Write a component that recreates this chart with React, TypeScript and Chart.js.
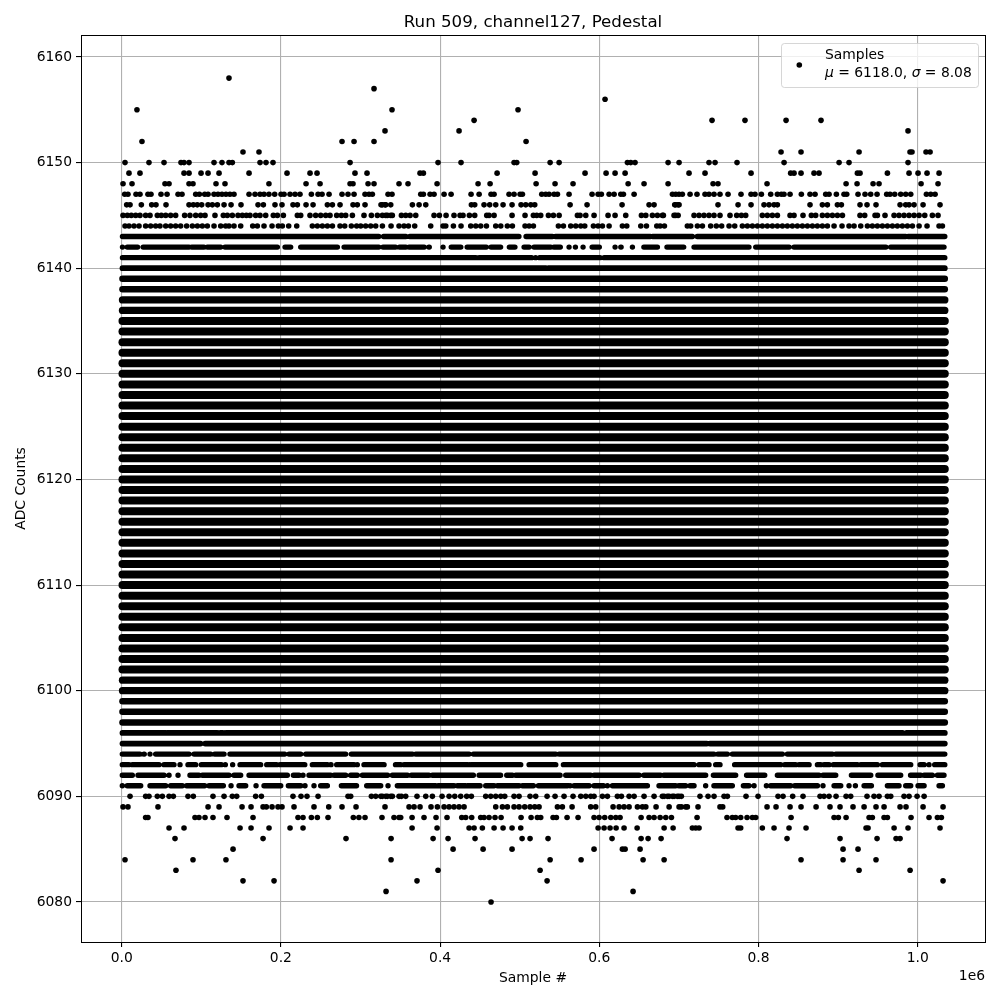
import React, { useEffect, useRef } from "react";
import { Chart, registerables } from "chart.js";

Chart.register(...registerables);

// All sample positions are written in thousands of samples.
const SAMPLE_UNIT = 1000;

const CHART_TITLE = "Run 509, channel127, Pedestal";
const X_LABEL = "Sample #";
const Y_LABEL = "ADC Counts";
const X_TICKS = [0, 200000, 400000, 600000, 800000, 1000000];
const Y_TICKS = [6080, 6090, 6100, 6110, 6120, 6130, 6140, 6150, 6160];

// Isolated samples, one list per ADC value.
const row6158 = [134.8];
const row6157 = [317];
const row6156 = [607.2];
const row6155 = [19.2, 339.6, 497.9];
const row6154 = [442.7, 741.6, 783, 834.6, 878.5];
const row6153 = [330.8, 423.8, 987.8];
const row6152 = [25.5, 276.8, 291.9, 317, 508];
const row6151 = [152.4, 172.5, 828.3, 853.4, 926.3, 990.3, 992.8, 1010.4, 1015.5];
const row6150 = [4.2, 34.3, 53.2, 74.5, 78.3, 84.6, 116, 126, 134.8, 139, 173.8, 181.3, 190.1, 286.9, 397.4, 426.3, 492.9, 496.3, 538.2, 549.5, 635.3, 639.5, 644.9, 686.4, 700.2, 737.8, 745.4, 773, 832.1, 901.2, 913.7, 987.8];
const row6149 = [9.2, 23, 78.3, 84.6, 99.7, 108.5, 122.3, 160, 207.7, 236.6, 245.4, 293.1, 308.2, 374.8, 379, 471.6, 519.3, 582.1, 608.5, 619.8, 632.4, 712.7, 732.8, 790.6, 840.4, 844.6, 853.4, 869.7, 876, 924.2, 927.5, 961.9, 989.1, 1000.4, 1011.7, 1026.8];
const row6148 = [1.7, 13, 54.4, 59.5, 84.6, 89.6, 118.5, 129.8, 185, 231.6, 249.2, 286.9, 290.6, 309.5, 317, 348.4, 359.7, 396.2, 447.7, 462.8, 520.6, 544.4, 567, 636.2, 656.2, 686.4, 742.9, 749.1, 810.7, 910, 923.8, 943.9, 951.4, 1004.2, 1025.5];
const row6147 = [3.8, 7.9, 18, 23, 33, 36.8, 49.4, 57, 70.8, 75.8, 93, 97.6, 104.3, 108.5, 116, 121, 126, 131, 136, 141.1, 160, 167.5, 173.8, 178.8, 185, 192.2, 200.2, 204, 211.5, 217.8, 224, 238.3, 246.7, 251.7, 260.5, 276.8, 284.3, 291.9, 305.7, 310.7, 314.9, 334.6, 339.6, 375.7, 379, 387.4, 392.4, 405, 413.8, 438.9, 449, 464, 467.8, 486.6, 492.9, 500.5, 503.4, 527.7, 532.7, 536.9, 543.2, 547.4, 562, 590.9, 598.5, 602.6, 612.3, 618.6, 627, 630.3, 643.7, 691.9, 696, 700.1, 704.3, 714, 722.7, 732.8, 737.8, 744.1, 751.6, 761.7, 778, 790.6, 795.6, 803.6, 815.3, 823.7, 828.7, 832, 839.6, 853.8, 864.7, 871, 884.4, 888.6, 897.8, 907.4, 910.8, 925, 933.8, 940.9, 948.9, 961, 965.2, 971.1, 978.6, 984.9, 991.2, 1010.9, 1016.3, 1021.8];
const row6146 = [6.3, 10.5, 24.7, 37.7, 43.1, 55.7, 84.6, 90, 95, 100.5, 108.5, 113.9, 120.2, 128.6, 137.4, 149.9, 171.3, 178, 192.6, 201.4, 215.2, 220.7, 231.6, 240.4, 258.4, 264.7, 274.3, 290.6, 296, 305.7, 325.8, 330.8, 338, 327.5, 331.7, 365.2, 373.6, 382, 439.3, 443.5, 455.2, 462.3, 469.9, 479.1, 490.4, 501.7, 507.6, 513.9, 518.9, 563.3, 584.6, 628.6, 662.5, 668.8, 696, 700.2, 694.7, 698.9, 749.1, 774.3, 790.6, 806.9, 813.2, 819.5, 823.7, 864.7, 880.2, 886.5, 899.1, 904.1, 927.5, 936.3, 947.6, 977.8, 984.9, 989.1, 995.4, 1006.7, 1028];
const row6145 = [1.7, 7.1, 12.1, 17.6, 23, 30.1, 35.6, 44.8, 49.8, 55.3, 61.5, 67.8, 79.1, 85.8, 93, 99.2, 104.7, 117.2, 127.7, 132.7, 139, 146.1, 151.6, 156.6, 161.2, 168.3, 173.8, 180.9, 190.5, 195.6, 203.1, 220.7, 224.9, 236.6, 243.7, 250, 256.3, 261.7, 270.1, 276, 281.4, 289.8, 304.4, 313.7, 321.2, 331.7, 338, 327.5, 333.8, 340, 351.4, 356.8, 362.3, 369.4, 392.4, 399.1, 407.5, 417.5, 425.1, 428.8, 436.8, 443.5, 458.6, 461.5, 467.8, 490.4, 506.7, 517.2, 521.4, 526.4, 536.1, 542.3, 549.5, 572.5, 575.8, 583, 593.4, 611, 619.8, 633.2, 652.9, 658.4, 666.7, 673, 679.3, 696, 699, 680.5, 693.9, 719, 725.3, 731.5, 737.8, 744.1, 751.6, 764.2, 772.6, 778.5, 783.9, 804.8, 811.1, 817.4, 823.7, 839.6, 844.6, 855.9, 866.4, 871.8, 880.2, 886.5, 892.8, 899.1, 905.4, 927.5, 933.4, 946.4, 949.3, 958.9, 970.3, 976.5, 982.8, 989.1, 995.4, 1001.7, 1008.8, 1018.4, 1025.5];
const row6144 = [4.2, 9.2, 15.5, 21.8, 30.1, 36.4, 42.7, 48.1, 55.3, 61.5, 67.8, 74.1, 81.6, 88.8, 95.1, 101.3, 107.6, 116, 124.4, 130.6, 134.8, 141.1, 149.5, 164.6, 170.4, 178.8, 188.9, 196.8, 201.8, 209.8, 219.9, 239.5, 245.8, 252.1, 258.4, 264.7, 274.3, 280.2, 288.5, 295.2, 300.3, 306.5, 312.8, 319.1, 327.5, 338.4, 348.4, 354.7, 360.2, 368.1, 388.2, 403.7, 407.1, 416.7, 426.3, 438.5, 444.8, 451, 458.2, 469.9, 476.2, 484.5, 490.8, 506.7, 511.8, 517.2, 548.6, 554.9, 564.1, 570.4, 576.7, 581.7, 592.6, 598.5, 603.9, 612.3, 629, 634.5, 652.1, 659.2, 672.2, 676.4, 681.8, 710.6, 714.8, 723.2, 729.5, 739.9, 747, 753.7, 763, 770.1, 779.7, 786, 792.3, 798.6, 804.8, 811.1, 817.4, 823.7, 830, 836.2, 842.5, 848.8, 855.1, 861.4, 867.7, 873.9, 880.2, 886.5, 894.9, 904.9, 913.7, 920, 928.4, 936.8, 943, 949.3, 955.6, 961.9, 968.2, 974.4, 980.7, 987, 993.3, 1001.7, 1011.7, 1026.8, 1031];
const row6090 = [10.5, 30.1, 34.3, 44.8, 51.1, 59.5, 64.9, 83.3, 90, 114.7, 128.6, 139, 144.5, 168.3, 175.5, 215.2, 225.3, 232.8, 246.7, 284.3, 287.7, 313.7, 319.1, 325.4, 331.7, 338, 348.4, 327.5, 333.8, 340.1, 351.4, 356.8, 371, 382, 390.3, 402.5, 411.3, 418.4, 425.9, 433.4, 439.3, 457.3, 463.6, 469.9, 476.2, 481.2, 492.9, 499.2, 513, 520.1, 534.4, 544.4, 555.7, 567, 576.7, 583, 589.2, 593.4, 603.9, 610.2, 622.7, 627.8, 637.4, 643.7, 656.2, 668.8, 681.4, 687.7, 693.9, 700.2, 679.2, 685.5, 691.8, 698, 703.1, 726.5, 736.6, 744.1, 756.7, 760.9, 784.3, 799.4, 824.5, 830.8, 842.9, 855.9, 877.3, 882.3, 888.6, 897.4, 910, 915.8, 936.3, 945.1, 951.4, 961.9, 966.1, 982.8, 989.1, 999.2, 1008];
const row6089 = [1.7, 7.9, 45.6, 108.5, 122.3, 151.2, 162.5, 177.6, 181.7, 188.9, 196.4, 201.4, 216.5, 241.6, 260.1, 276.8, 294.4, 330.8, 361, 367.3, 374.8, 388.6, 396.6, 405, 411.3, 417.5, 423.8, 430.1, 469.9, 478.3, 484.5, 492.9, 499.2, 506.3, 513, 518.9, 524.3, 547.4, 553.6, 565.8, 589.2, 595.5, 617.3, 624.9, 631.1, 637.4, 647.9, 654.2, 658.4, 671.3, 687.7, 700.2, 703.1, 708.5, 710.6, 724, 751.6, 755, 810.7, 822, 839.6, 853.4, 872.3, 889.8, 902.4, 918.7, 932.6, 947.6, 957.7, 977.8, 985.3, 1006.7, 1031.8];
const row6088 = [30.1, 33, 92.1, 97.1, 104.7, 114.7, 132.3, 165, 221.5, 227.8, 238.3, 245.8, 259.2, 291, 298, 305.7, 327, 342.1, 348.4, 350.5, 364.8, 379.8, 394.9, 408.7, 427.2, 432.2, 439.7, 451, 455.2, 461.5, 469, 476.6, 501.7, 514.3, 522.2, 526.4, 541.9, 546.1, 559.5, 573.3, 593.4, 599.7, 606.8, 614.4, 620.7, 626.1, 652.5, 662.5, 668.8, 676.4, 683.5, 690.6, 722.8, 760.4, 767.1, 771.3, 777.6, 785.6, 792.3, 796.5, 840.9, 894.9, 900.3, 910, 938.9, 943, 957.7, 961.9, 991.6, 1014.2, 1024.7, 1029.7];
const row6087 = [59.5, 78.3, 148.7, 162.5, 185.1, 211.5, 227.8, 364.8, 396.2, 436.4, 442.7, 453.1, 467.8, 479.1, 490.4, 501.3, 598.5, 606, 613.5, 621.1, 631.1, 647.5, 681.4, 692.7, 716.9, 721.1, 725.3, 774.3, 777.6, 804.8, 819.5, 838.3, 859.7, 935.1, 937.6, 970.3, 987.8, 1028];
const row6086 = [67, 177.6, 281.8, 338.4, 391.2, 410, 443.9, 503, 513, 535.6, 616, 652.5, 661.3, 677.6, 835.8, 902.4, 948.9, 972.8, 977.8];
const row6085 = [139.9, 416.3, 454, 490.4, 593.4, 629, 632.4, 651.2, 906.2, 925];
const row6084 = [4.2, 89.6, 131, 338.4, 538.2, 577.1, 655, 681.4, 853.4, 906.2, 947.6];
const row6083 = [68.2, 397.4, 525.6, 926.3, 990.4];
const row6082 = [152.4, 191.4, 371, 534.4, 1031.8];
const row6081 = [332.1, 642.4];
const row6080 = [464];

const sparseRows: [number, number[]][] = [
  [6158, row6158], [6157, row6157], [6156, row6156], [6155, row6155], [6154, row6154], [6153, row6153],
  [6152, row6152], [6151, row6151], [6150, row6150], [6149, row6149], [6148, row6148], [6147, row6147],
  [6146, row6146], [6145, row6145], [6144, row6144], [6090, row6090], [6089, row6089], [6088, row6088],
  [6087, row6087], [6086, row6086], [6085, row6085], [6084, row6084], [6083, row6083], [6082, row6082],
  [6081, row6081], [6080, row6080],
];

// Rows so dense the samples merge: unbroken stretches [first, last].
const runs6143 = [[1, 323], [329, 357], [362, 499], [508, 541], [545, 664], [667, 717], [723, 985], [988, 1034]];
const runs6142 = [[1, 1.4], [7, 20], [27, 84.6], [88, 103.4], [107.6, 124.4], [129.8, 195.6], [205.2, 212.3], [224.9, 271], [279.4, 323], [328.3, 344], [349, 357], [361, 380], [386, 386.4], [403.7, 404.1], [414, 426], [434, 458], [464, 476], [487, 494], [505.5, 511.8], [518, 539], [543, 551], [562, 562.4], [570, 570.4], [579.6, 580], [591, 600], [619.8, 620.2], [627, 627.4], [641.6, 642], [656, 673], [685, 706], [719, 788], [796.5, 838.4], [844.6, 960], [966, 1033]];
const runs6141 = [[1, 445], [449, 515], [520, 520.4], [525, 601], [606, 840], [843, 1034]];
const runs6140 = [[1, 533], [536, 1034]];
const runs6096 = [[1, 55], [57, 120], [124, 127], [131, 170], [171, 981], [986, 1034]];
const runs6095 = [[1, 99], [105, 735], [739, 1034]];
const runs6094 = [[0.8, 23], [28, 28.4], [35.6, 36], [42.7, 84.6], [90.9, 111.8], [116.8, 128.6], [136, 204.8], [210.2, 224.9], [231.2, 281.4], [288.5, 365.2], [369.4, 436.4], [441.8, 545.3], [549.5, 744], [749, 760.9], [767.1, 830], [836.2, 892.8], [897, 1034]];
const runs6093 = [[0.8, 9.2], [13.4, 46.9], [53.2, 65.7], [73.3, 73.7], [83.3, 93], [100.1, 125.2], [130.2, 130.6], [139.4, 139.8], [148.7, 174.6], [182.2, 194.7], [198.9, 230], [239.5, 258.4], [262.6, 263], [270.1, 291.9], [296, 296.4], [304.4, 329.6], [344, 350.5], [354.7, 435], [438.5, 501.3], [511.8, 545.3], [554.9, 719], [725.3, 737.8], [746.2, 751.6], [770, 827.9], [833, 846.7], [850.9, 863.5], [874, 878.2], [882.3, 888.6], [894, 924.2], [928.4, 949.3], [955.6, 991.2], [1003, 1008], [1014.2, 1014.6], [1021.3, 1034]];
const runs6092 = [[0.8, 13.4], [20.5, 53.2], [59.5, 59.9], [70.8, 71.2], [85.8, 97.1], [101.3, 134.8], [141.1, 149.5], [160, 208.1], [215.7, 222.8], [227.8, 228.2], [235.3, 262.6], [266.8, 281.4], [287.7, 296], [302.4, 334], [340, 359], [364, 386], [390.3, 441.8], [449, 476], [483.7, 490.8], [495, 550.7], [557.8, 589.2], [593.4, 650], [656, 677], [681, 733.6], [743.3, 771.3], [785, 807.8], [823.7, 876], [881, 897], [916.7, 941], [950, 978.6], [991, 1003.8], [1008, 1018.4], [1024.7, 1033]];
const runs6091 = [[0.8, 1.2], [7, 23.9], [35.6, 55.3], [61.5, 76.2], [81.6, 104.3], [109.7, 127.7], [137.4, 137.8], [147.4, 155.8], [168.8, 169.2], [178.8, 199.8], [209.4, 225], [230.3, 230.7], [241.6, 242], [250, 258.4], [276, 295], [307.8, 325.4], [334.6, 335], [346.3, 394.5], [397.4, 417.5], [421.7, 432.2], [434.3, 450.2], [457.3, 467.8], [472, 499.2], [503.4, 517.2], [523.5, 560], [563.3, 563.7], [568.3, 587.2], [593.4, 605.2], [610.2, 610.6], [616.5, 660.4], [675, 696], [700, 708.5], [714, 719], [733.6, 734], [744, 767.1], [781, 788], [794.4, 794.8], [809.9, 810.3], [815.3, 840.4], [845.5, 874], [881, 881.4], [894.9, 903.3], [913.7, 914.1], [921.7, 922.1], [932.6, 941.8], [961.9, 976.5], [984.9, 991.2], [1000.4, 1008], [1026.8, 1031]];

const fullRun = [[1, 1034]];
const solidRows = [6139, 6138, 6137, 6136, 6135, 6134, 6133, 6132, 6131, 6130, 6129, 6128, 6127, 6126, 6125, 6124, 6123, 6122, 6121, 6120, 6119, 6118, 6117, 6116, 6115, 6114, 6113, 6112, 6111, 6110, 6109, 6108, 6107, 6106, 6105, 6104, 6103, 6102, 6101, 6100, 6099, 6098, 6097];

const runRows: [number, number[][]][] = [
  [6143, runs6143], [6142, runs6142], [6141, runs6141], [6140, runs6140],
  ...solidRows.map((v): [number, number[][]] => [v, fullRun]),
  [6096, runs6096], [6095, runs6095], [6094, runs6094], [6093, runs6093], [6092, runs6092], [6091, runs6091],
];

const LEGEND_LABEL = "Samples";
const LEGEND_MEAN = "6118.0";
const LEGEND_SIGMA = "8.08";

const FONT = '"DejaVu Sans", sans-serif';
const TICK_PX = 13.89;

// Merged rows look a little heavier toward the middle of the distribution.
function runWidth(v: number): number {
  if (v >= 6141 || v <= 6094) return 5.4;
  if (v >= 6140 || v <= 6096) return 5.8;
  if (v >= 6138 || v <= 6099) return 6.5;
  if (v >= 6136 || v === 6100 || v === 6101) return 7.3;
  return 8;
}

const framePlugin = {
  id: "frameAndLegend",
  afterDraw(chart: any) {
    const { ctx, chartArea: a } = chart;
    ctx.save();
    ctx.strokeStyle = "#000";
    ctx.lineWidth = 1;
    ctx.strokeRect(Math.round(a.left) + 0.5, Math.round(a.top) + 0.5, a.right - a.left, a.bottom - a.top);

    // Axis offset text
    ctx.fillStyle = "#000";
    ctx.font = `${TICK_PX}px ${FONT}`;
    ctx.textAlign = "right";
    ctx.textBaseline = "alphabetic";
    ctx.fillText("1e6", a.right, 980);

    // Legend
    const bx = 781, by = 43, bw = 197, bh = 44;
    ctx.beginPath();
    ctx.roundRect(bx + 0.5, by + 0.5, bw, bh, 3);
    ctx.fillStyle = "rgba(255,255,255,0.8)";
    ctx.fill();
    ctx.strokeStyle = "rgba(204,204,204,0.8)";
    ctx.lineWidth = 1;
    ctx.stroke();
    ctx.beginPath();
    ctx.arc(799.3, 65, 2.8, 0, Math.PI * 2);
    ctx.fillStyle = "#000";
    ctx.fill();
    ctx.textAlign = "left";
    ctx.fillText(LEGEND_LABEL, 825, 59);
    let x = 825;
    const parts: [string, boolean][] = [
      ["μ", true],
      [` = ${LEGEND_MEAN}, `, false],
      ["σ", true],
      [` = ${LEGEND_SIGMA}`, false],
    ];
    for (const [t, italic] of parts) {
      ctx.font = `${italic ? "italic " : ""}${TICK_PX}px ${FONT}`;
      ctx.fillText(t, x, 77);
      x += ctx.measureText(t).width;
    }
    ctx.restore();
  },
};

export default function App() {
  const ref = useRef<HTMLCanvasElement>(null);

  useEffect(() => {
    document.body.style.margin = "0";
    const runSets = runRows.map(([v, runs]) => ({
      type: "scatter" as const,
      showLine: true,
      spanGaps: false,
      data: runs.flatMap(([a, b]) => [
        { x: a * SAMPLE_UNIT, y: v },
        { x: b * SAMPLE_UNIT, y: v },
        { x: null, y: null },
      ]),
      borderColor: "#000",
      backgroundColor: "#000",
      borderWidth: runWidth(v),
      borderCapStyle: "round" as const,
      pointRadius: 0,
    }));
    const dotSets = sparseRows.map(([v, xs]) => ({
      type: "scatter" as const,
      showLine: false,
      data: xs.map((x) => ({ x: x * SAMPLE_UNIT, y: v })),
      backgroundColor: "#000",
      borderColor: "#000",
      borderWidth: 0,
      pointRadius: 2.8,
      pointStyle: "circle" as const,
    }));
    const chart = new Chart(ref.current as HTMLCanvasElement, {
      type: "scatter",
      data: { datasets: [...runSets, ...dotSets] as any },
      plugins: [framePlugin],
      options: {
        responsive: false,
        animation: false,
        devicePixelRatio: 1,
        events: [],
        layout: { padding: { right: 15, left: 0, top: 0, bottom: 0 } },
        plugins: {
          legend: { display: false },
          tooltip: { enabled: false },
          title: {
            display: true,
            text: CHART_TITLE,
            color: "#000",
            fullSize: false,
            font: { family: FONT, size: 16.67, weight: "normal" },
            padding: { top: 13, bottom: 2 },
          },
        },
        scales: {
          x: {
            type: "linear",
            min: -51100,
            max: 1084500,
            afterFit: (s: any) => { s.height = 58; },
            afterBuildTicks: (s: any) => { s.ticks = X_TICKS.map((value) => ({ value })); },
            grid: { color: "#b0b0b0", lineWidth: 1.1, tickColor: "#000", tickLength: 5, tickWidth: 1.1 },
            border: { display: false },
            ticks: {
              color: "#000",
              font: { family: FONT, size: TICK_PX },
              padding: 3,
              maxRotation: 0,
              autoSkip: false,
              callback: (v: any) => (Number(v) / 1e6).toFixed(1),
            },
            title: { display: true, text: X_LABEL, color: "#000", font: { family: FONT, size: TICK_PX }, padding: { top: 0, bottom: 13 } },
          },
          y: {
            type: "linear",
            min: 6076.21,
            max: 6162.08,
            afterFit: (s: any) => { s.width = 81; },
            afterBuildTicks: (s: any) => { s.ticks = Y_TICKS.map((value) => ({ value })); },
            grid: { color: "#b0b0b0", lineWidth: 1.1, tickColor: "#000", tickLength: 5, tickWidth: 1.1 },
            border: { display: false },
            ticks: {
              color: "#000",
              font: { family: FONT, size: TICK_PX },
              padding: 4,
              autoSkip: false,
              callback: (v: any) => String(v),
            },
            title: { display: true, text: Y_LABEL, color: "#000", font: { family: FONT, size: TICK_PX }, padding: { top: 13, bottom: 0 } },
          },
        },
      },
    });
    return () => chart.destroy();
  }, []);

  return (
    <div style={{ width: 1000, height: 1000 }}>
      <canvas ref={ref} width={1000} height={1000} style={{ display: "block" }} />
    </div>
  );
}
